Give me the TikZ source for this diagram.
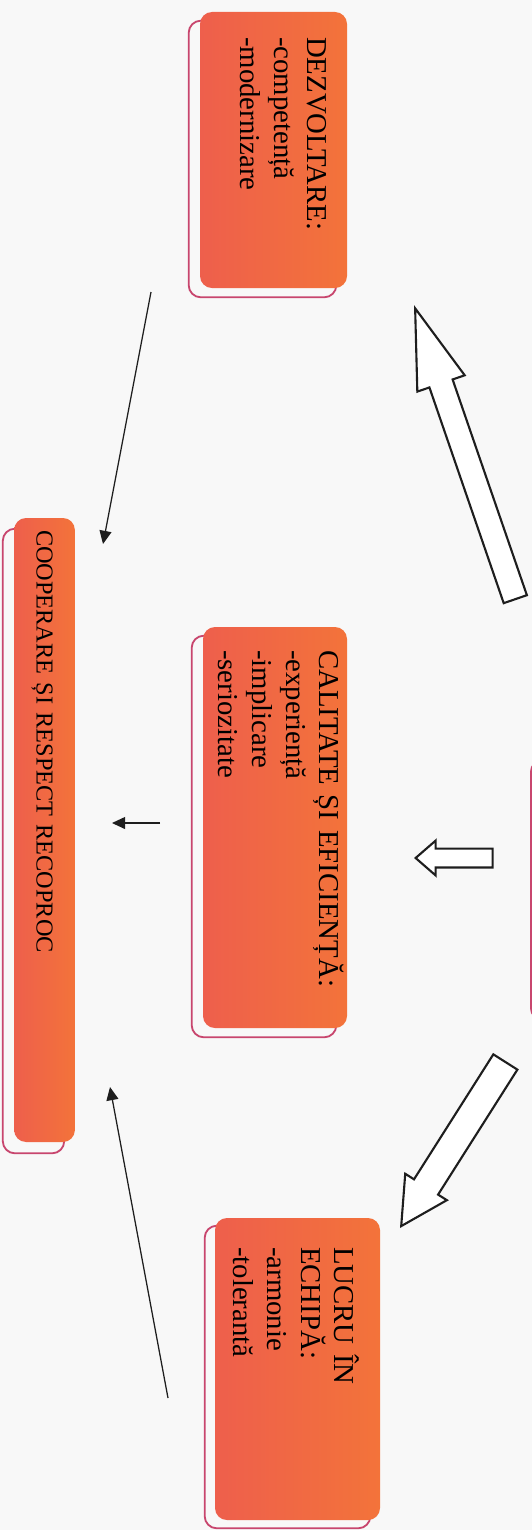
\documentclass[tikz,border=0pt]{standalone}
\usepackage{fontspec}
\setmainfont{Liberation Serif}
\usetikzlibrary{arrows.meta,backgrounds,calc,shapes.arrows}
\definecolor{paperTone}{HTML}{F8F8F8}
\definecolor{cardOrange}{HTML}{F3733A}
\definecolor{cardRed}{HTML}{EE5F4C}
\definecolor{cardRim}{HTML}{C8466E}
\definecolor{inkLine}{HTML}{1E1E1E}
\newcommand{\cardfont}{\fontsize{20.5pt}{24pt}\selectfont}
\newcommand{\barfont}{\fontsize{17.3pt}{20pt}\selectfont}

\begin{document}
\begin{tikzpicture}[
  x=0.25mm, y=-0.25mm,
  card/.style={
    rotate=-90,
    rounded corners=3mm,
    left color=cardRed,
    right color=cardOrange,
    draw=none,
    text=black,
    align=left,
    font=\cardfont,
    text height=4.8mm
  },
  cardrim/.style={draw=cardRim, line width=1.3pt, rounded corners=3mm},
  blockarrow/.style={
    single arrow,
    draw=inkLine,
    fill=white,
    line width=1.5pt,
    inner xsep=0pt,
    anchor=tip
  },
  link/.style={-{Triangle[length=3.3mm,width=3mm]}, draw=inkLine, line width=0.9pt}
]
\useasboundingbox (0,0) rectangle (532,1530);

% Result boxes, read from top to bottom.
\node[card, text width=56.5mm, inner xsep=6.25mm, inner ysep=5mm,
      text depth=21.95mm] (dev) at (273.5,150)
  {DEZVOLTARE:\\-competență\\-modernizare};
\node[card, text width=88.75mm, inner xsep=5.75mm, inner ysep=2mm,
      text depth=27.2mm] (cal) at (275,827.5)
  {CALITATE ȘI EFICIENȚĂ:\\-experiență\\-implicare\\-seriozitate};
\node[card, text width=61mm, inner xsep=7.25mm, inner ysep=6.5mm,
      text depth=23.45mm] (team) at (297.5,1369)
  {LUCRU ÎN\\ECHIPĂ:\\-armonie\\-tolerantă};
\node[card, font=\barfont, text width=150mm, inner xsep=3mm, inner ysep=5.6mm,
      text height=4mm, text depth=0mm] (coop) at (44.5,830)
  {COOPERARE ȘI RESPECT RECOPROC};

% Edge of the source box, cut by the page.
\begin{scope}
  \clip (0,0) rectangle (532,1530);
  \node[cardrim, minimum width=40mm, minimum height=65mm, anchor=west] (src) at (530,890) {};
\end{scope}

% Hollow arrows leaving the source box.
\coordinate (devTip) at (414,305);
\coordinate (calTip) at (414,858);
\coordinate (teamTip) at (400,1228);
\node[blockarrow, rotate=109, minimum height=76.9mm, inner ysep=2.8mm,
      single arrow head extend=3.2mm, single arrow tip angle=35] (devArrow) at (devTip) {};
\node[blockarrow, rotate=180, minimum height=19.25mm, inner ysep=2.1mm,
      single arrow head extend=2mm, single arrow tip angle=82] (calArrow) at (calTip) {};
\node[blockarrow, rotate=-122.4, minimum height=48.6mm, inner ysep=3.3mm,
      single arrow head extend=2.6mm, single arrow tip angle=56] (teamArrow) at (teamTip) {};

% Thin arrows into the cooperation bar.
\coordinate (devTail) at (151,292);
\coordinate (devEnd) at (103,544);
\coordinate (calTail) at (160,823);
\coordinate (calEnd) at (112,823);
\coordinate (teamTail) at (168,1398);
\coordinate (teamEnd) at (110,1087);
\draw[link] (devTail) -- (devEnd);
\draw[link] (calTail) -- (calEnd);
\draw[link] (teamTail) -- (teamEnd);

% Paper and offset rims behind the boxes.
\begin{scope}[on background layer]
  \fill[paperTone] (0,0) rectangle (532,1530);
  \draw[cardrim] ($(dev.north west)+(-11,9)$) rectangle ($(dev.south east)+(-11,9)$);
  \draw[cardrim] ($(cal.north west)+(-11,9)$) rectangle ($(cal.south east)+(-11,9)$);
  \draw[cardrim] ($(team.north west)+(-10,8)$) rectangle ($(team.south east)+(-10,8)$);
  \draw[cardrim] ($(coop.north west)+(-11,11)$) rectangle ($(coop.south east)+(-11,11)$);
\end{scope}
\end{tikzpicture}
\end{document}
